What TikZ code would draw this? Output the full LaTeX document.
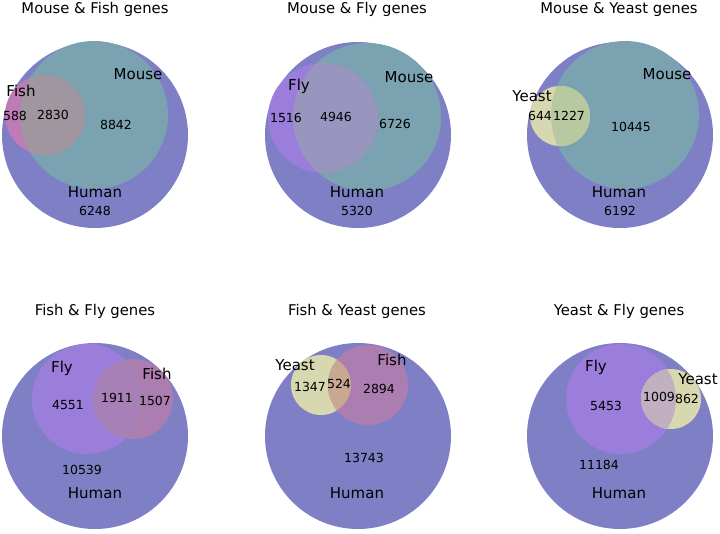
\documentclass[tikz,border=0pt]{standalone}
\usepackage{fontspec}
\setmainfont{DejaVu Sans}
\usepackage{tikz}
\usepackage{xcolor}
\definecolor{humanblue}{HTML}{7F7FC6}
\definecolor{mouseteal}{HTML}{7AA2B0}
\definecolor{fishpink}{HTML}{BE7CB6}
\definecolor{fishmauve}{HTML}{AC7DB0}
\definecolor{flyviolet}{HTML}{9B7DDC}
\definecolor{yeastcream}{HTML}{D8D8B0}
\definecolor{fishmouse}{HTML}{A0969F}
\definecolor{flymouse}{HTML}{9896BE}
\definecolor{yeastmouse}{HTML}{B8C8A0}
\definecolor{fishfly}{HTML}{A880B8}
\definecolor{yeastfish}{HTML}{C8A890}
\definecolor{yeastfly}{HTML}{C0B0C0}

\tikzset{
  paneltitle/.style={font=\fontsize{14.8}{16}\selectfont, inner sep=0pt, text height=10.8pt, text depth=0pt},
  setname/.style={font=\fontsize{15}{16}\selectfont, inner sep=0pt, text height=10.9pt, text depth=0pt},
  count/.style={font=\fontsize{12.5}{14}\selectfont, inner sep=0pt, text height=9.1pt, text depth=0pt},
}

\begin{document}
\begin{tikzpicture}[x=1pt,y=-1pt]
  \useasboundingbox (0,0) rectangle (720,533);

  % mouse & fish
  \fill[humanblue] (95,135) circle (93pt);
  \fill[mouseteal] (94,115) circle (74pt);
  \fill[fishpink] (45,115) circle (40pt);
  \begin{scope}
    \clip (94,115) circle (74pt);
    \fill[fishmouse] (45,115) circle (40pt);
  \end{scope}
  \node[paneltitle] (t1) at (95,8) {Mouse \& Fish genes};
  \node[setname] (human1) at (95,192) {Human};
  \node[setname] (mouse1) at (138,74) {Mouse};
  \node[setname] (fish1) at (21,91) {Fish};
  \node[count] (c1a) at (15,116) {588};
  \node[count] (c1b) at (53,115) {2830};
  \node[count] (c1c) at (116,125) {8842};
  \node[count] (c1d) at (95,211) {6248};

  % mouse & fly
  \fill[humanblue] (358,135) circle (93pt);
  \fill[mouseteal] (367,117) circle (74pt);
  \fill[flyviolet] (323,118) circle (55pt);
  \begin{scope}
    \clip (367,117) circle (74pt);
    \fill[flymouse] (323,118) circle (55pt);
  \end{scope}
  \node[paneltitle] (t2) at (357,8) {Mouse \& Fly genes};
  \node[setname] (human2) at (357,192) {Human};
  \node[setname] (mouse2) at (409,77) {Mouse};
  \node[setname] (fly2) at (299,85) {Fly};
  \node[count] (c2a) at (286,118) {1516};
  \node[count] (c2b) at (336,117) {4946};
  \node[count] (c2c) at (395,124) {6726};
  \node[count] (c2d) at (357,211) {5320};

  % mouse & yeast
  \fill[humanblue] (620,135) circle (93pt);
  \fill[mouseteal] (625,115) circle (74pt);
  \fill[yeastcream] (560,116) circle (30pt);
  \begin{scope}
    \clip (625,115) circle (74pt);
    \fill[yeastmouse] (560,116) circle (30pt);
  \end{scope}
  \node[paneltitle] (t3) at (619,8) {Mouse \& Yeast genes};
  \node[setname] (human3) at (619,192) {Human};
  \node[setname] (mouse3) at (667,74) {Mouse};
  \node[setname] (yeast3) at (532,96) {Yeast};
  \node[count] (c3a) at (540,116) {644};
  \node[count] (c3b) at (569,116) {1227};
  \node[count] (c3c) at (631,127) {10445};
  \node[count] (c3d) at (620,211) {6192};

  % fish & fly
  \fill[humanblue] (95,436) circle (93pt);
  \fill[flyviolet] (87,399) circle (55pt);
  \fill[fishmauve] (133,399) circle (40pt);
  \begin{scope}
    \clip (87,399) circle (55pt);
    \fill[fishfly] (133,399) circle (40pt);
  \end{scope}
  \node[paneltitle] (t4) at (95,310) {Fish \& Fly genes};
  \node[setname] (human4) at (95,493) {Human};
  \node[setname] (fly4) at (62,367) {Fly};
  \node[setname] (fish4) at (157,374) {Fish};
  \node[count] (c4a) at (68,405) {4551};
  \node[count] (c4b) at (117,398) {1911};
  \node[count] (c4c) at (155,401) {1507};
  \node[count] (c4d) at (82,470) {10539};

  % fish & yeast
  \fill[humanblue] (358,436) circle (93pt);
  \fill[yeastcream] (321,385) circle (30pt);
  \fill[fishmauve] (368,385) circle (40pt);
  \begin{scope}
    \clip (321,385) circle (30pt);
    \fill[yeastfish] (368,385) circle (40pt);
  \end{scope}
  \node[paneltitle] (t5) at (357,310) {Fish \& Yeast genes};
  \node[setname] (human5) at (357,493) {Human};
  \node[setname] (yeast5) at (295,365) {Yeast};
  \node[setname] (fish5) at (392,360) {Fish};
  \node[count] (c5a) at (310,387) {1347};
  \node[count] (c5b) at (339,384) {524};
  \node[count] (c5c) at (379,389) {2894};
  \node[count] (c5d) at (364,458) {13743};

  % yeast & fly
  \fill[humanblue] (620,436) circle (93pt);
  \fill[flyviolet] (621,399) circle (55pt);
  \fill[yeastcream] (671,399) circle (30pt);
  \begin{scope}
    \clip (621,399) circle (55pt);
    \fill[yeastfly] (671,399) circle (30pt);
  \end{scope}
  \node[paneltitle] (t6) at (619,310) {Yeast \& Fly genes};
  \node[setname] (human6) at (619,493) {Human};
  \node[setname] (fly6) at (596,366) {Fly};
  \node[setname] (yeast6) at (698,379) {Yeast};
  \node[count] (c6a) at (606,406) {5453};
  \node[count] (c6b) at (659,397) {1009};
  \node[count] (c6c) at (687,399) {862};
  \node[count] (c6d) at (599,465) {11184};
\end{tikzpicture}
\end{document}
